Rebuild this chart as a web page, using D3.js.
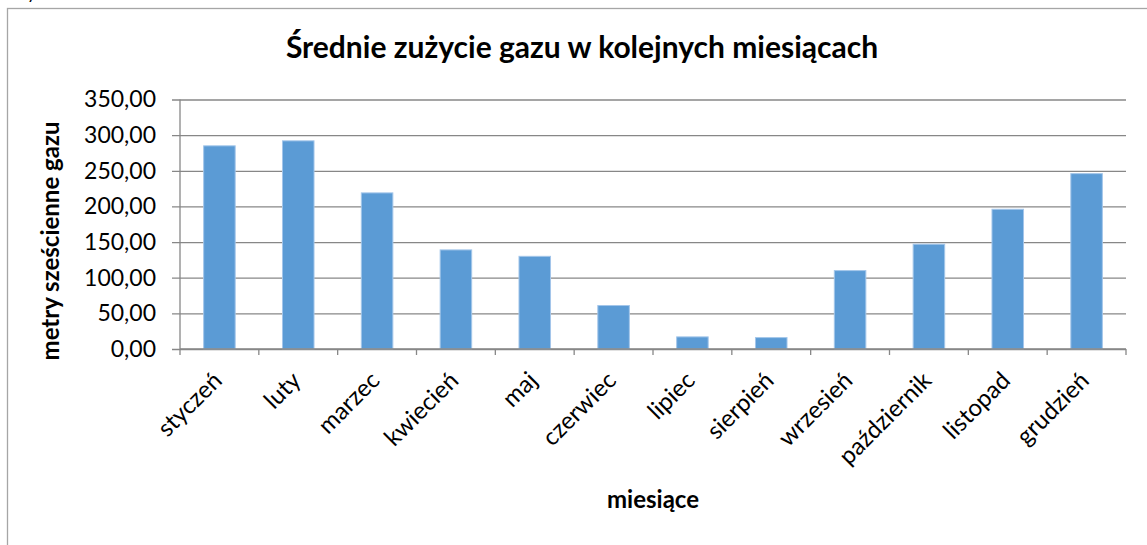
<!DOCTYPE html>
<html>
<head>
<meta charset="utf-8">
<script src="https://cdn.jsdelivr.net/npm/d3@7"></script>
<style>
  body { margin: 0; background: #fff; }
  svg { display: block; }
  text { font-family: Lato, "Open Sans", sans-serif; fill: #000; }
</style>
</head>
<body>
<div class="vis-barchart"></div>
<script>
const months = ["styczeń", "luty", "marzec", "kwiecień", "maj", "czerwiec", "lipiec", "sierpień", "wrzesień", "październik", "listopad", "grudzień"];
const gasUsage = [285, 292, 219, 139, 130, 61, 17, 16, 110, 147, 196, 246];
const yTicks = [0, 50, 100, 150, 200, 250, 300, 350];
const chartTitle = "Średnie zużycie gazu w kolejnych miesiącach";
const xTitle = "miesiące";
const yTitle = "metry sześcienne gazu";

const W = 1147, H = 545;
const plot = { left: 180, right: 1126, top: 99.5, bottom: 349 };

const pl = d3.formatLocale({ decimal: ",", thousands: " ", grouping: [3], currency: ["", " zł"] });
const fmt = pl.format(".2f");

const svg = d3.select('.vis-barchart')
    .append('svg')
    .attr('width', W)
    .attr('height', H);

// chart frame (runs off the right and bottom of the picture)
svg.append('rect')
    .attr('x', 7.5).attr('y', 8.5)
    .attr('width', W + 20).attr('height', H + 20)
    .attr('fill', 'none')
    .attr('stroke', '#a6a6a6')
    .attr('stroke-width', 1.3);

// bit of text cut off above the frame
svg.append('text')
    .attr('x', 27).attr('y', -1)
    .style('font-size', '18px')
    .text('y');

let x = d3.scaleBand()
    .domain(months)
    .range([plot.left, plot.right])
    .paddingInner(0.6)
    .paddingOuter(0.3);

let y = d3.scaleLinear()
    .domain([0, 350])
    .range([plot.bottom, plot.top]);

// gridlines + y labels
let yAxis = svg.append('g')
    .attr('transform', 'translate(' + plot.left + ',0)')
    .call(d3.axisLeft(y).tickValues(yTicks).tickFormat(fmt)
        .tickSize(-(plot.right - plot.left)).tickSizeOuter(0).tickPadding(24));
yAxis.select('.domain').remove();
yAxis.selectAll('.tick line')
    .attr('x1', -8)
    .attr('stroke', '#878787')
    .attr('stroke-width', 1.3);
yAxis.selectAll('.tick text')
    .style('font-size', '23px')
    .style('font-family', 'Lato, sans-serif')
    .attr('fill', '#000');

// vertical axis line
svg.append('line')
    .attr('x1', plot.left).attr('x2', plot.left)
    .attr('y1', plot.top).attr('y2', plot.bottom)
    .attr('stroke', '#878787')
    .attr('stroke-width', 1.3);

svg.selectAll('rect.bar')
    .data(gasUsage)
    .enter()
    .append('rect')
    .attr('class', 'bar')
    .attr('x', (d, i) => x(months[i]))
    .attr('width', x.bandwidth())
    .attr('y', d => y(d))
    .attr('height', d => y(0) - y(d))
    .attr('fill', '#5b9bd5')
    .attr('stroke', '#a3c6ea')
    .attr('stroke-width', 1);

// x axis with ticks between the categories
let xAxis = svg.append('g')
    .attr('transform', 'translate(0,' + plot.bottom + ')');
xAxis.append('line')
    .attr('x1', plot.left).attr('x2', plot.right)
    .attr('stroke', '#878787')
    .attr('stroke-width', 1.3);
const step = x.step();
xAxis.selectAll('line.sep')
    .data(d3.range(months.length + 1))
    .enter().append('line')
    .attr('class', 'sep')
    .attr('x1', i => plot.left + i * step)
    .attr('x2', i => plot.left + i * step)
    .attr('y1', 0).attr('y2', 6)
    .attr('stroke', '#878787')
    .attr('stroke-width', 1.3);
xAxis.selectAll('text.lbl')
    .data(months)
    .enter().append('text')
    .attr('class', 'lbl')
    .attr('text-anchor', 'end')
    .style('font-size', '24px')
    .attr('transform', d => 'translate(' + (x(d) + x.bandwidth() / 2 + 4) + ',' + 33 + ') rotate(-45)')
    .text(d => d);

svg.append('text')
    .attr('x', 582).attr('y', 58)
    .attr('text-anchor', 'middle')
    .style('font-size', '30px')
    .style('font-weight', 'bold')
    .text(chartTitle);

svg.append('text')
    .attr('transform', 'translate(' + 59 + ',' + 241 + ') rotate(-90)')
    .attr('text-anchor', 'middle')
    .style('font-size', '24px')
    .style('font-weight', 'bold')
    .text(yTitle);

svg.append('text')
    .attr('x', 653).attr('y', 508)
    .attr('text-anchor', 'middle')
    .style('font-size', '24px')
    .style('font-weight', 'bold')
    .text(xTitle);
</script>
</body>
</html>
